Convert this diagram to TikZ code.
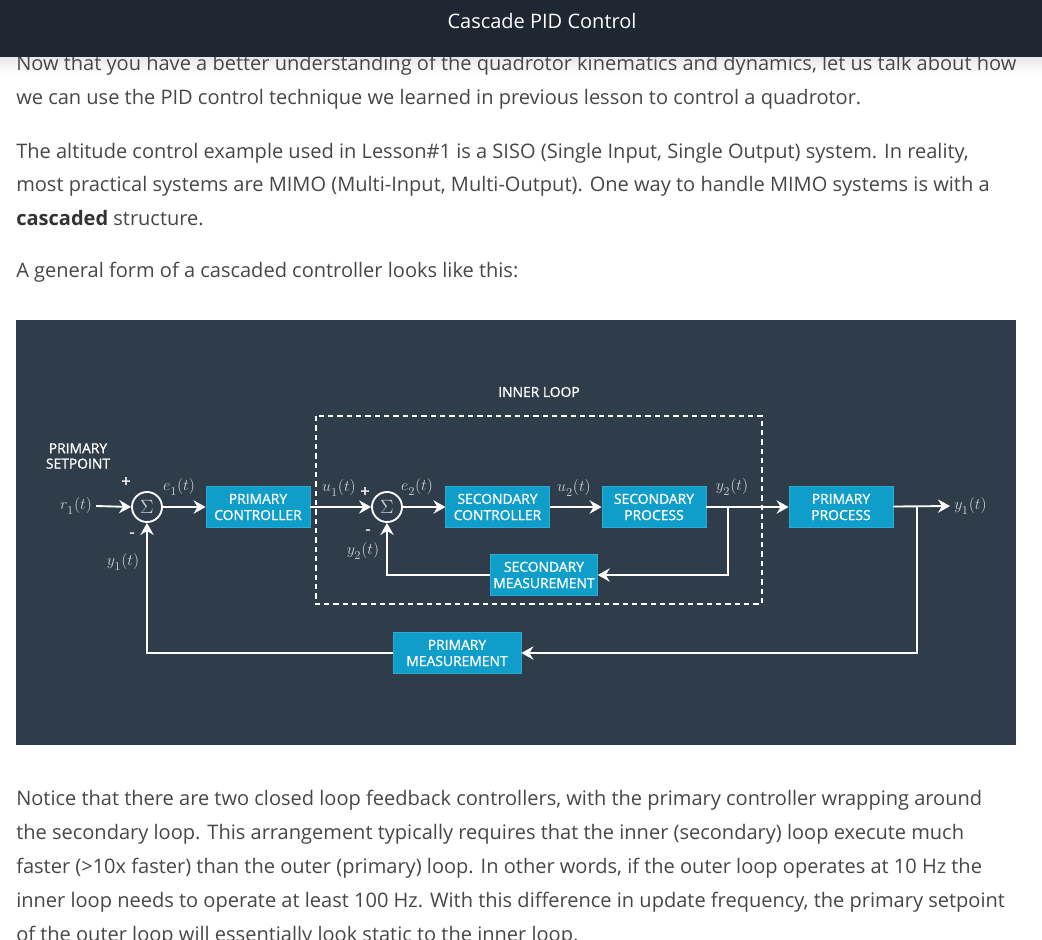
\documentclass[tikz,border=0pt]{standalone}
\usepackage[no-math]{fontspec}
\setmainfont{Open Sans}
\newfontfamily\semib[FakeBold=1.2]{Open Sans}
\usetikzlibrary{arrows.meta}
\definecolor{hdr}{HTML}{1F2832}
\definecolor{dbg}{HTML}{2F3C4A}
\definecolor{boxc}{HTML}{0F9DC9}
\definecolor{boxe}{HTML}{2AAAD6}
\definecolor{txt}{HTML}{474747}
\definecolor{mlab}{HTML}{C9CDD2}
\newcommand\lsb[1]{_{\lower1.8pt\hbox{$\scriptstyle #1$}}}
\begin{document}
\begin{tikzpicture}[x=0.75pt,y=-0.75pt,
  blk/.style={fill=boxc,draw=boxe,line width=0.6pt,text=white,
    font=\semib\fontsize{10.4}{12.2}\selectfont,align=center,inner sep=0pt,
    minimum height=30.75pt},
  sumc/.style={circle,draw=white,line width=1.4pt,minimum size=22.5pt,
    inner sep=0pt,text=mlab,font=\fontsize{15}{16}\selectfont},
  wire/.style={draw=white,line width=1.4pt},
  arr/.style={wire,-{Stealth[length=9pt,width=10pt,inset=3pt]}},
  mlabel/.style={text=mlab,font=\fontsize{12.8}{15}\selectfont,inner sep=3pt},
  para/.style={anchor=base west,inner sep=0pt,text=txt,
    font=\fontsize{15.02}{17}\selectfont},
  sign/.style={text=white,font=\semib\fontsize{12}{13}\selectfont,inner sep=0pt},
  wlabel/.style={text=white,font=\semib\fontsize{10.4}{11.5}\selectfont,
    align=center,inner sep=0pt}
]
\useasboundingbox (0,0) rectangle (1042,939);
\clip (0,0) rectangle (1042,939);
\fill[white] (0,0) rectangle (1042,939);
\shade[top color=black!9,bottom color=white] (0,57) rectangle (1042,74);

% body text (top)
\node[para] (l1) at (16,70) {Now that you have a better understanding of the quadrotor kinematics and dynamics, let us talk about how};
\node[para] (l2) at (16,104) {we can use the PID control technique we learned in previous lesson to control a quadrotor.};
\node[para] (l3) at (16,158) {The altitude control example used in Lesson\#1 is a SISO (Single Input, Single Output) system. In reality,};
\node[para] (l4) at (16,191) {most practical systems are MIMO (Multi-Input, Multi-Output). One way to handle MIMO systems is with a};
\node[para] (l5) at (16,225) {\textbf{\color{black!80}cascaded} structure.};
\node[para] (l6) at (16,277) {A general form of a cascaded controller looks like this:};

% header
\fill[hdr] (0,0) rectangle (1042,57);
\node[text=white,font=\fontsize{15}{18}\selectfont,inner sep=0pt] (title) at (542,21) {Cascade PID Control};

% diagram background
\fill[dbg] (16,320) rectangle (1016,745);

% inner loop frame
\draw[white,line width=1.4pt,dash pattern=on 4pt off 3pt] (316,416) rectangle (762,604);
\node[wlabel] (inner) at (539,392) {INNER LOOP};

% labels
\node[wlabel] (psp) at (78,456) {PRIMARY\\SETPOINT};
\node[mlabel] (r1) at (76,506) {$r\lsb{1}(t)$};

% blocks
\node[sumc] (s1) at (147,507) {$\Sigma$};
\node[blk,minimum width=78pt] (pc) at (258,507) {PRIMARY\\CONTROLLER};
\node[sumc] (s2) at (387,507) {$\Sigma$};
\node[blk,minimum width=77.5pt] (sc) at (497.5,507) {SECONDARY\\CONTROLLER};
\node[blk,minimum width=78pt] (sp) at (654,507) {SECONDARY\\PROCESS};
\node[blk,minimum width=80pt] (sm) at (544,575) {SECONDARY\\MEASUREMENT};
\node[blk,minimum width=96pt] (pm) at (457,653) {PRIMARY\\MEASUREMENT};
\node[blk,minimum width=78pt] (pp) at (841,507) {PRIMARY\\PROCESS};
\node[mlabel,anchor=west] (y1o) at (950,506) {$y\lsb{1}(t)$};

\coordinate (b2) at (728,507);
\coordinate (b1) at (917,507);

% signal labels
\node[mlabel] (e1) at (179,487) {$e\lsb{1}(t)$};
\node[mlabel] (y1i) at (123,562) {$y\lsb{1}(t)$};
\node[mlabel] (u1) at (339,488) {$u\lsb{1}(t)$};
\node[mlabel] (e2) at (417,487) {$e\lsb{2}(t)$};
\node[mlabel] (y2i) at (363,551) {$y\lsb{2}(t)$};
\node[mlabel] (u2) at (574,488) {$u\lsb{2}(t)$};
\node[mlabel] (y2o) at (732,487) {$y\lsb{2}(t)$};
\node[sign] (p1) at (126,482) {+};
\node[sign] (m1) at (132,535) {-};
\node[sign] (p2) at (365,492) {+};
\node[sign] (m2) at (368,532) {-};

% connectors
\draw[arr] (r1.east) -- (s1.west);
\draw[arr] (s1) -- (pc);
\draw[arr] (pc) -- (s2);
\draw[arr] (s2) -- (sc);
\draw[arr] (sc) -- (sp);
\draw[arr] (sp) -- (pp);
\draw[arr] (pp) -- (y1o.west);
\draw[arr] (b2) |- (sm.east);
\draw[arr] (sm.west) -| (s2.south);
\draw[arr] (b1) |- (pm.east);
\draw[arr] (pm.west) -| (s1.south);

% body text (bottom)
\node[para] (n1) at (16,805) {Notice that there are two closed loop feedback controllers, with the primary controller wrapping around};
\node[para] (n2) at (16,839) {the secondary loop. This arrangement typically requires that the inner (secondary) loop execute much};
\node[para] (n3) at (16,873) {faster (>10x faster) than the outer (primary) loop. In other words, if the outer loop operates at 10 Hz the};
\node[para] (n4) at (16,907) {inner loop needs to operate at least 100 Hz. With this difference in update frequency, the primary setpoint};
\node[para] (n5) at (16,941) {of the outer loop will essentially look static to the inner loop.};
\end{tikzpicture}
\end{document}
